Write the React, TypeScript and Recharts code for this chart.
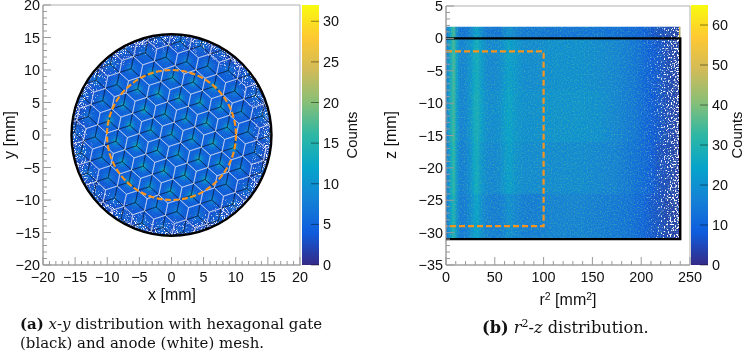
import { ComposedChart, Bar, ReferenceArea, Scatter, ScatterChart, XAxis, YAxis } from "recharts"

// ROOT kBird palette
const birdStops = [0, 0.125, 0.25, 0.375, 0.5, 0.625, 0.75, 0.875, 1]
const birdR = [53, 15, 20, 6, 46, 135, 209, 254, 249]
const birdG = [42, 92, 129, 164, 183, 191, 187, 200, 251]
const birdB = [135, 221, 214, 202, 164, 119, 89, 50, 14]

const xyTicks = [-20, -19, -18, -17, -16, -15, -14, -13, -12, -11, -10, -9, -8, -7, -6, -5, -4, -3, -2, -1, 0, 1, 2, 3, 4, 5, 6, 7, 8, 9, 10, 11, 12, 13, 14, 15, 16, 17, 18, 19, 20]
const xyMajor = [-20, -15, -10, -5, 0, 5, 10, 15, 20]
const r2Ticks = [0, 10, 20, 30, 40, 50, 60, 70, 80, 90, 100, 110, 120, 130, 140, 150, 160, 170, 180, 190, 200, 210, 220, 230, 240, 250]
const r2Major = [0, 50, 100, 150, 200, 250]
const zTicks = [-35, -34, -33, -32, -31, -30, -29, -28, -27, -26, -25, -24, -23, -22, -21, -20, -19, -18, -17, -16, -15, -14, -13, -12, -11, -10, -9, -8, -7, -6, -5, -4, -3, -2, -1, 0, 1, 2, 3, 4, 5]
const zMajor = [-35, -30, -25, -20, -15, -10, -5, 0, 5]
const leftBarTicks = [0, 5, 10, 15, 20, 25, 30]
const rightBarTicks = [0, 10, 20, 30, 40, 50, 60]

// left panel: background counts against radius
const discRadii = [0, 8, 10, 12, 13.5, 15, 15.5]
const discCounts = [5.2, 5, 4.8, 4.2, 3.4, 2.4, 2]
const speckleRadii = [0, 12.5, 13, 14, 15, 15.5]
const speckleAlpha = [0, 0, 0.16, 0.3, 0.46, 0.58]
const hotRingOuter = [4, 8, 11, 13, 15, 30]
const hotRingCounts = [14, 16, 14, 10, 7.5, 5]
// paler patches along the rim
const rimPatchX = [-10.8, -14.5, -15, -9.5, 10, 15.3, 12.8]
const rimPatchY = [11, 5.5, -1.3, -12, -11.7, -0.8, 8.6]
const rimPatches = rimPatchX.map((x, i) => ({ x, y: rimPatchY[i] }))

// mesh lattice indices
const latticeI = [-10, -9, -8, -7, -6, -5, -4, -3, -2, -1, 0, 1, 2, 3, 4, 5, 6, 7, 8, 9, 10]
const latticeJ = [-9, -8, -7, -6, -5, -4, -3, -2, -1, 0, 1, 2, 3, 4, 5, 6, 7, 8, 9]
const meshPitch = 3.3
const meshTilt = -12
const meshOrigin = { x: 0, y: 0.1 }
const gateRadius = 15.5
const fiducialRadius = 10

// right panel: counts at r2 column centres for each z band
const r2Centres = [0, 2, 5, 8, 11, 15, 20, 25, 29, 32, 36, 41, 48, 55, 60, 65, 71, 80, 92, 107, 122, 140, 157, 172, 185, 195, 204, 211, 218, 226, 238]
const zEdges = [1.8, 0, -8, -16, -24, -31]
const band0 = [13, 17, 26, 35, 18, 12, 13, 16, 21, 23, 18, 14, 13, 13, 17, 19, 16, 14, 14, 13, 13, 13, 13, 12, 11, 10, 9, 7, 6, 5, 3]
const band1 = [16, 18, 27, 35, 23, 16, 17, 20, 25, 27, 22, 18, 17, 18, 21, 23, 21, 18, 18, 19, 19, 19, 18, 17, 15, 13, 10, 8, 7, 5, 3]
const band2 = [16, 18, 28, 34, 22, 16, 17, 20, 26, 28, 23, 19, 18, 19, 22, 24, 21, 19, 19, 20, 20, 20, 19, 17, 15, 13, 10, 8, 7, 5, 3]
const band3 = [15, 17, 26, 32, 21, 15, 16, 19, 25, 27, 21, 18, 17, 18, 21, 23, 20, 18, 18, 18, 18, 18, 17, 16, 14, 12, 10, 8, 6, 5, 3]
const band4 = [14, 16, 24, 30, 20, 14, 15, 18, 22, 24, 19, 16, 15, 15, 17, 19, 17, 15, 15, 16, 16, 16, 15, 14, 13, 11, 9, 7, 6, 4, 3]
const zBands = [band0, band1, band2, band3, band4]
const r2SpeckleAt = [0, 0.22, 0.44, 0.67, 0.89, 1]
const r2SpeckleAlpha = [0, 0.05, 0.14, 0.28, 0.43, 0.52]

const gateBox = [{ x: 0, y: 0 }, { x: 240, y: 0 }, { x: 240, y: -31 }, { x: 0, y: -31 }]
const fiducialBox = [{ x: 0, y: -2 }, { x: 100, y: -2 }, { x: 100, y: -29 }, { x: 0, y: -29 }]

const SX = 258 / 40
const SY = 260 / 40
const FONT = "'Liberation Sans', Arial, sans-serif"
const SERIF = "'DejaVu Serif', serif"
const AXIS = "#9a9a9a"

function bird(count: number, max: number) {
  const t = Math.min(1, Math.max(0, count / max))
  let i = 0
  while (i < birdStops.length - 2 && t > birdStops[i + 1]) i++
  const f = (t - birdStops[i]) / (birdStops[i + 1] - birdStops[i])
  const mix = (c: number[]) => Math.round(c[i] + (c[i + 1] - c[i]) * f)
  return `rgb(${mix(birdR)},${mix(birdG)},${mix(birdB)})`
}

const minus = (v: number) => String(v).replace("-", "\u2212")

const XTick = ({ x, y, payload, major }: any) => {
  const isMajor = major.includes(payload.value)
  return (
    <g>
      <line x1={x} x2={x} y1={y} y2={y - (isMajor ? 8 : 4)} stroke={AXIS} strokeWidth={1} />
      {isMajor && <text x={x} y={y + 17} textAnchor="middle" fontSize={14.4} fontFamily={FONT} fill="#111">{minus(payload.value)}</text>}
    </g>
  )
}

const YTick = ({ x, y, payload, major }: any) => {
  const isMajor = major.includes(payload.value)
  return (
    <g>
      <line x1={x} x2={x + (isMajor ? 8 : 4)} y1={y} y2={y} stroke={AXIS} strokeWidth={1} />
      {isMajor && <text x={x - 3} y={y + 5} textAnchor="end" fontSize={14.4} fontFamily={FONT} fill="#111">{minus(payload.value)}</text>}
    </g>
  )
}

const BarTick = ({ x, y, payload }: any) => (
  <g>
    <line x1={x - 8} x2={x} y1={y} y2={y} stroke="rgba(0,0,0,0.45)" strokeWidth={1} />
    <text x={x + 4} y={y + 5} fontSize={14.4} fontFamily={FONT} fill="#111">{payload.value}</text>
  </g>
)

const Title = ({ x, y, children, rotate }: any) => (
  <text x={x} y={y} textAnchor="middle" fontSize={16} fontFamily={FONT} fill="#111"
    transform={rotate ? `rotate(-90 ${x} ${y})` : undefined}>{children}</text>
)

function Colorbar({ left, width, max, ticks, labelX }: any) {
  const id = `bird${max}`
  return (
    <div style={{ position: "absolute", left, top: 0 }}>
      <ComposedChart width={width} height={310} data={[{ name: "counts", top: max }]} barCategoryGap={0}
        margin={{ top: 5, right: 0, bottom: 0, left: 0 }}>
        <defs>
          <linearGradient id={id} x1="0" y1="1" x2="0" y2="0">
            {birdStops.map((s) => <stop key={s} offset={s} stopColor={bird(s * max, max)} />)}
          </linearGradient>
        </defs>
        <XAxis dataKey="name" height={45} tick={false} axisLine={false} tickLine={false} />
        <YAxis orientation="right" width={width - 17} type="number" domain={[0, max]} ticks={ticks} interval={0}
          axisLine={false} tickLine={false} tickSize={0} tickMargin={0} tick={<BarTick />} />
        <Bar dataKey="top" fill={`url(#${id})`} isAnimationActive={false} />
        <text x={labelX} y={135} textAnchor="middle" fontSize={14.8} fontFamily={FONT} fill="#111"
          transform={`rotate(-90 ${labelX} 135)`}>Counts</text>
      </ComposedChart>
    </div>
  )
}

const hexPath = (cx: number, cy: number) => {
  const R = meshPitch / Math.sqrt(3)
  let d = ""
  for (let k = 0; k < 6; k++) {
    const a = ((meshTilt + 30 + 60 * k) * Math.PI) / 180
    d += `${k ? "L" : "M"}${(cx + R * SX * Math.cos(a)).toFixed(2)} ${(cy - R * SY * Math.sin(a)).toFixed(2)}`
  }
  return d + "Z"
}

const cos = (d: number) => Math.cos((d * Math.PI) / 180)
const sin = (d: number) => Math.sin((d * Math.PI) / 180)

const anodeCells = latticeJ.flatMap((j) =>
  latticeI.map((i) => ({
    x: meshOrigin.x + meshPitch * (i * cos(meshTilt) + j * cos(meshTilt + 60)),
    y: meshOrigin.y + meshPitch * (i * sin(meshTilt) + j * sin(meshTilt + 60)),
  })),
).filter((c) => Math.hypot(c.x, c.y) < 19)

// the gate hexagons sit with one corner on each anode centre
const gateCells = anodeCells.map((c) => ({
  x: c.x + (meshPitch / Math.sqrt(3)) * cos(meshTilt + 30),
  y: c.y + (meshPitch / Math.sqrt(3)) * sin(meshTilt + 30),
}))

const centre = [{ x: 0, y: 0 }]

const ring = (r: number, props: any) => ({ cx, cy }: any) => (
  <ellipse cx={cx} cy={cy} rx={r * SX} ry={r * SY} {...props} />
)

const ClipDisc = ({ cx, cy }: any) => (
  <clipPath id="disc"><ellipse cx={cx} cy={cy} rx={gateRadius * SX} ry={gateRadius * SY} /></clipPath>
)

const HotCell = ({ cx, cy, payload }: any) => {
  const d = Math.hypot(payload.x, payload.y)
  const level = hotRingOuter.findIndex((r) => d < r)
  return <path d={hexPath(cx, cy)} fill={`url(#hot${level})`} clipPath="url(#disc)" />
}

const RimPatch = ({ cx, cy }: any) => (
  <g clipPath="url(#disc)">
    <ellipse cx={cx} cy={cy} rx={3.5 * SX} ry={3.5 * SY} fill="url(#patchFill)" filter="url(#speckle)" />
  </g>
)

const MeshCell = (stroke: string, width: number) => ({ cx, cy }: any) => (
  <path d={hexPath(cx, cy)} fill="none" stroke={stroke} strokeWidth={width} clipPath="url(#disc)" />
)

const noDot = () => null

const Speckle = ({ id, freq, seed, slope }: any) => (
  <filter id={id} x="0" y="0" width="1" height="1" colorInterpolationFilters="sRGB">
    <feTurbulence type="fractalNoise" baseFrequency={freq} numOctaves={1} seed={seed} result="n" />
    <feColorMatrix in="n" type="matrix" values="0 0 0 0 1  0 0 0 0 1  0 0 0 0 1  2.5 0 0 0 -0.75" result="na" />
    <feComposite in="na" in2="SourceAlpha" operator="arithmetic" k1={0} k2={1} k3={1} k4={-1} />
    <feColorMatrix type="matrix" values={`0 0 0 0 1  0 0 0 0 1  0 0 0 0 1  0 0 0 ${slope} 0`} />
  </filter>
)

const Grain = ({ id, freq, seed, alpha, tint }: any) => (
  <filter id={id} x="0" y="0" width="1" height="1" colorInterpolationFilters="sRGB">
    <feTurbulence type="fractalNoise" baseFrequency={freq} numOctaves={1} seed={seed} result="n" />
    <feColorMatrix in="n" type="matrix" values={`0 0 0 0 ${tint[0]}  0 0 0 0 ${tint[1]}  0 0 0 0 ${tint[2]}  ${alpha * 6} 0 0 0 ${-alpha * 2.7}`} result="g" />
    <feComposite in="g" in2="SourceAlpha" operator="in" />
  </filter>
)

function XYPanel() {
  return (
    <div style={{ position: "absolute", left: 0, top: 0 }}>
      <ScatterChart width={320} height={310} margin={{ top: 5, right: 19, bottom: 0, left: 0 }}>
        <defs>
          <radialGradient id="discFill">
            {discRadii.map((r, i) => <stop key={r} offset={r / gateRadius} stopColor={bird(discCounts[i], 32)} />)}
          </radialGradient>
          <radialGradient id="speckleFill">
            {speckleRadii.map((r, i) => <stop key={r} offset={r / gateRadius} stopColor="#fff" stopOpacity={speckleAlpha[i]} />)}
          </radialGradient>
          <radialGradient id="patchFill">
            <stop offset={0} stopColor="#fff" stopOpacity={0.42} />
            <stop offset={1} stopColor="#fff" stopOpacity={0} />
          </radialGradient>
          {hotRingCounts.map((c, i) => (
            <radialGradient id={`hot${i}`} key={i}>
              <stop offset={0} stopColor={bird(c, 32)} stopOpacity={1} />
              <stop offset={0.24} stopColor={bird(c * 0.5 + 3, 32)} stopOpacity={0.85} />
              <stop offset={0.6} stopColor={bird(6, 32)} stopOpacity={0.45} />
              <stop offset={1} stopColor={bird(5, 32)} stopOpacity={0} />
            </radialGradient>
          ))}
          <Speckle id="speckle" freq={1.1} seed={4} slope={2.5} />
          <Grain id="grainA" freq={0.9} seed={9} alpha={0.15} tint={[0.1, 0.2, 0.7]} />
        </defs>
        <XAxis dataKey="x" type="number" domain={[-20, 20]} ticks={xyTicks} interval={0} height={45} tickSize={0} tickMargin={0}
          axisLine={{ stroke: AXIS }} tickLine={false} tick={<XTick major={xyMajor} />} />
        <YAxis dataKey="y" type="number" domain={[-20, 20]} ticks={xyTicks} interval={0} width={43} tickSize={0} tickMargin={0}
          axisLine={{ stroke: AXIS }} tickLine={false} tick={<YTick major={xyMajor} />} />
        <ReferenceArea x1={-20} x2={20} y1={-20} y2={20} fill="none" stroke="#b0b0b0" />
        <Scatter data={centre} shape={ClipDisc} isAnimationActive={false} />
        <Scatter data={centre} shape={ring(gateRadius, { fill: "url(#discFill)" })} isAnimationActive={false} />
        <Scatter data={anodeCells} shape={HotCell} isAnimationActive={false} />
        <Scatter data={centre} shape={ring(gateRadius, { fill: "#000", filter: "url(#grainA)" })} isAnimationActive={false} />
        <Scatter data={centre} shape={ring(gateRadius, { fill: "url(#speckleFill)", filter: "url(#speckle)" })} isAnimationActive={false} />
        <Scatter data={rimPatches} shape={RimPatch} isAnimationActive={false} />
        <Scatter data={gateCells} shape={MeshCell("rgba(10,20,40,0.6)", 0.7)} isAnimationActive={false} />
        <Scatter data={anodeCells} shape={MeshCell("rgba(225,230,245,0.68)", 0.8)} isAnimationActive={false} />
        <Scatter data={centre} shape={ring(fiducialRadius, { fill: "none", stroke: "#f6941e", strokeWidth: 2.2, strokeDasharray: "6 2.5" })} isAnimationActive={false} />
        <Scatter data={centre} shape={ring(gateRadius, { fill: "none", stroke: "#000", strokeWidth: 2.4 })} isAnimationActive={false} />
        <Title x={172} y={300}>x [mm]</Title>
        <Title x={15} y={135} rotate>y [mm]</Title>
      </ScatterChart>
    </div>
  )
}

function RZPanel() {
  return (
    <div style={{ position: "absolute", left: 380, top: 0 }}>
      <ScatterChart width={330} height={310} margin={{ top: 6, right: 20, bottom: 0, left: 0 }}>
        <defs>
          <linearGradient id="r2Speckle" x1="0" y1="0" x2="1" y2="0">
            {r2SpeckleAt.map((s, i) => <stop key={s} offset={s} stopColor="#fff" stopOpacity={r2SpeckleAlpha[i]} />)}
          </linearGradient>
          {zBands.map((band, b) => (
            <linearGradient id={`band${b}`} key={b} x1="0" y1="0" x2="1" y2="0">
              {band.map((count, c) => <stop key={c} offset={r2Centres[c] / 240} stopColor={bird(count, 65)} />)}
            </linearGradient>
          ))}
          <Speckle id="speckleB" freq={0.7} seed={12} slope={4} />
          <Grain id="grainB" freq={0.7} seed={21} alpha={0.25} tint={[0.35, 0.75, 0.6]} />
        </defs>
        <XAxis dataKey="x" type="number" domain={[0, 250]} ticks={r2Ticks} interval={0} height={45} tickSize={0} tickMargin={0}
          axisLine={{ stroke: AXIS }} tickLine={false} tick={<XTick major={r2Major} />} />
        <YAxis dataKey="y" type="number" domain={[-35, 5]} ticks={zTicks} interval={0} width={66} tickSize={0} tickMargin={0}
          axisLine={{ stroke: AXIS }} tickLine={false} tick={<YTick major={zMajor} />} />
        <ReferenceArea x1={0} x2={250} y1={-35} y2={5} fill="none" stroke="#b0b0b0" />
        {zBands.map((_, b) => (
          <ReferenceArea key={b} x1={0} x2={240} y1={b < zBands.length - 1 ? zEdges[b + 1] - 0.3 : zEdges[b + 1]} y2={zEdges[b]}
            fill={`url(#band${b})`} fillOpacity={1} stroke="none" />
        ))}
        <ReferenceArea x1={0} x2={240} y1={-31} y2={1.8} fill="#000" fillOpacity={1} stroke="none" filter="url(#grainB)" />
        <ReferenceArea x1={195} x2={240} y1={-31} y2={1.8} fill="url(#r2Speckle)" fillOpacity={1} stroke="none" filter="url(#speckleB)" />
        <ReferenceArea x1={239} x2={240} y1={0} y2={1.8} fill={bird(58, 65)} fillOpacity={1} stroke="none" />
        <Scatter data={gateBox} shape={noDot} line={{ stroke: "#000", strokeWidth: 2.4 }} lineType="joint" isAnimationActive={false} />
        <Scatter data={fiducialBox} shape={noDot} line={{ stroke: "#f6941e", strokeWidth: 2.2, strokeDasharray: "6 3" }} lineType="joint" isAnimationActive={false} />
        <Title x={16} y={135} rotate>z [mm]</Title>
        <text x={188} y={305} textAnchor="middle" fontSize={16} fontFamily={FONT} fill="#111">
          r<tspan dy={-5} fontSize={10.5}>2</tspan><tspan dy={5}> [mm</tspan><tspan dy={-5} fontSize={10.5}>2</tspan><tspan dy={5}>]</tspan>
        </text>
      </ScatterChart>
    </div>
  )
}

const captionStyle: any = { position: "absolute", fontFamily: SERIF, lineHeight: "18.7px", color: "#111", whiteSpace: "nowrap" }

export default function App() {
  return (
    <div style={{ position: "absolute", left: 0, top: 0, width: 749, height: 352, overflow: "hidden", background: "#fff", filter: "blur(0.35px)" }}>
      <XYPanel />
      <RZPanel />
      <Colorbar left={302} width={62} max={32} ticks={leftBarTicks} labelX={55} />
      <Colorbar left={691} width={58} max={65} ticks={rightBarTicks} labelX={51} />
      <div style={{ ...captionStyle, left: 20, top: 315, fontSize: 14.95 }}>
        <b>(a)</b> <i>x</i>-<i>y</i> distribution with hexagonal gate<br />(black) and anode (white) mesh.
      </div>
      <div style={{ ...captionStyle, left: 482, top: 319, fontSize: 16.2 }}>
        <b>(b)</b> <i>r</i><sup style={{ fontSize: 11, lineHeight: 0 }}>2</sup>-<i>z</i> distribution.
      </div>
    </div>
  )
}
